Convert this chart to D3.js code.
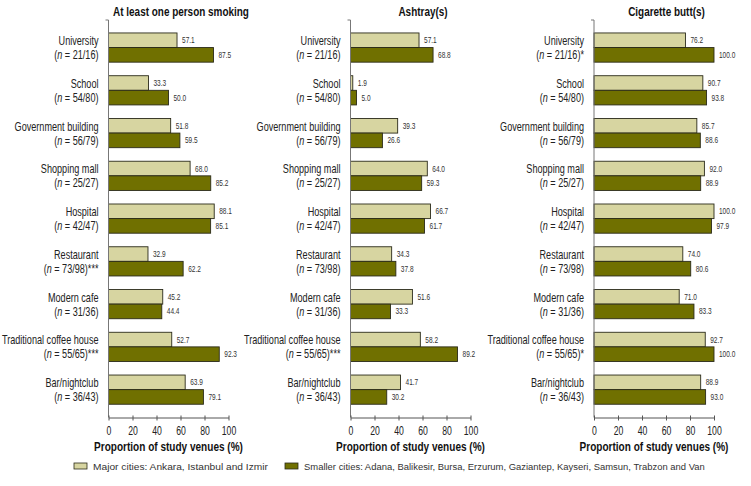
<!DOCTYPE html>
<html>
<head>
<meta charset="utf-8">
<script src="https://cdn.jsdelivr.net/npm/d3@7"></script>
<style>
  html, body { margin: 0; padding: 0; background: #fff; }
  svg { display: block; font-family: "Liberation Sans", Arial, sans-serif; }
</style>
</head>
<body>
<svg id="chart" width="751" height="486"></svg>
<script>
// ---- data ----
const categories = ["University", "School", "Government building", "Shopping mall", "Hospital",
  "Restaurant", "Modern cafe", "Traditional coffee house", "Bar/nightclub"];
const sampleSizes = ["21/16", "54/80", "56/79", "25/27", "42/47", "73/98", "31/36", "55/65", "36/43"];
const panelTitles = ["At least one person smoking", "Ashtray(s)", "Cigarette butt(s)"];
const significance = [
  ["", "", "", "", "", "***", "", "***", ""],
  ["", "", "", "", "", "", "", "***", ""],
  ["*", "", "", "", "", "", "", "*", ""]
];
const smokingMajor   = [57.1, 33.3, 51.8, 68.0, 88.1, 32.9, 45.2, 52.7, 63.9];
const smokingSmaller = [87.5, 50.0, 59.5, 85.2, 85.1, 62.2, 44.4, 92.3, 79.1];
const ashtrayMajor   = [57.1, 1.9, 39.3, 64.0, 66.7, 34.3, 51.6, 58.2, 41.7];
const ashtraySmaller = [68.8, 5.0, 26.6, 59.3, 61.7, 37.8, 33.3, 89.2, 30.2];
const buttMajor      = [76.2, 90.7, 85.7, 92.0, 100.0, 74.0, 71.0, 92.7, 88.9];
const buttSmaller    = [100.0, 93.8, 88.6, 88.9, 97.9, 80.6, 83.3, 100.0, 93.0];
const xTicks = [0, 20, 40, 60, 80, 100];
const seriesNames = ["Major cities: Ankara, Istanbul and Izmir",
  "Smaller cities: Adana, Balikesir, Bursa, Erzurum, Gaziantep, Kayseri, Samsun, Trabzon and Van"];
const axisTitle = "Proportion of study venues (%)";

const panels = [
  { major: smokingMajor, smaller: smokingSmaller },
  { major: ashtrayMajor, smaller: ashtraySmaller },
  { major: buttMajor, smaller: buttSmaller }
];

// ---- layout ----
const colors = ["#d7d5a1", "#707000"];
const panelX0 = [108.5, 350.5, 594];
const panelW = 120;
const axisTop = 20, axisY = 417.5;

const svg = d3.select("#chart");

// horizontal condensation (emulates a condensed typeface)
function measure(str, attrs) {
  const t = svg.append("text").text(str);
  Object.entries(attrs).forEach(([k, v]) => t.attr(k, v));
  const w = t.node().getComputedTextLength();
  t.remove();
  return w;
}
function place(sel, x, y, f) {
  sel.attr("x", 0).attr("y", 0).attr("transform", `translate(${x},${y}) scale(${f},1)`);
}

const fLabel = 84 / measure("Government building", { "font-size": 12.8 });
const fTitle = 136 / measure("At least one person smoking", { "font-size": 12.5, "font-weight": "bold" });
const fAxisT = 149 / measure(axisTitle, { "font-size": 12.5, "font-weight": "bold" });
const fVal = 12.7 / measure("57.1", { "font-size": 8.8 });
const fTick = 14.5 / measure("100", { "font-size": 13 });
const legTargets = [175, 401];
const fLeg = seriesNames.map((n, i) => legTargets[i] / measure(n, { "font-size": 9.5 }));

const y = d3.scaleBand().domain(categories).range([26.2, 411]).paddingInner(0.317).paddingOuter(0.158);
const ySub = d3.scaleBand().domain([0, 1]).range([0, y.bandwidth()]);

panels.forEach((p, pi) => {
  const x0 = panelX0[pi];
  const x = d3.scaleLinear().domain([0, 100]).range([x0, x0 + panelW]);
  const g = svg.append("g");

  // title
  g.append("text")
    .attr("text-anchor", "middle")
    .attr("font-weight", "bold").attr("font-size", 12.5)
    .attr("fill", "#111")
    .text(panelTitles[pi])
    .call(place, x0 + panelW / 2 + 12.5, 16, fTitle);

  // bars
  categories.forEach((c, i) => {
    const vals = [p.major[i], p.smaller[i]];
    vals.forEach((v, s) => {
      const by = y(c) + ySub(s);
      g.append("rect")
        .attr("x", x(0)).attr("y", by)
        .attr("width", x(v) - x(0)).attr("height", ySub.bandwidth())
        .attr("fill", colors[s]).attr("stroke", "#2b2b1a").attr("stroke-width", 0.9);
      g.append("text")
        .attr("font-size", 8.8).attr("fill", "#333")
        .text(v.toFixed(1))
        .call(place, x(v) + 5, by + ySub.bandwidth() / 2 + 3, fVal);
    });

    // category labels
    const cy = y(c) + y.bandwidth() / 2;
    g.append("text")
      .attr("text-anchor", "end")
      .attr("font-size", 12.8).attr("fill", "#222")
      .text(c)
      .call(place, x0 - 10, cy - 2.5, fLabel);
    const t2 = g.append("text")
      .attr("text-anchor", "end")
      .attr("font-size", 12.8).attr("fill", "#222");
    t2.append("tspan").text("(");
    t2.append("tspan").attr("font-style", "italic").text("n");
    t2.append("tspan").text(" = " + sampleSizes[i] + ")" + significance[pi][i]);
    t2.call(place, x0 - 10, cy + 11.5, fLabel);
  });

  // y axis line with top tick
  g.append("path")
    .attr("d", `M${x0 - 3},${axisTop}H${x0}V${axisY}`)
    .attr("fill", "none").attr("stroke", "#777").attr("stroke-width", 1);

  // x axis
  const ax = g.append("g").attr("transform", `translate(0,${axisY})`)
    .call(d3.axisBottom(x).tickValues(xTicks).tickSize(3).tickSizeOuter(0).tickPadding(5));
  ax.select(".domain").attr("stroke", "#555");
  ax.selectAll(".tick line").attr("stroke", "#555").attr("y1", -2).attr("y2", 3);
  ax.selectAll(".tick text")
    .attr("font-family", "inherit").attr("font-size", 13).attr("fill", "#222")
    .attr("transform", `scale(${fTick},1)`);

  g.append("text")
    .attr("text-anchor", "middle")
    .attr("font-weight", "bold").attr("font-size", 12.5).attr("fill", "#111")
    .text(axisTitle)
    .call(place, x0 + panelW / 2, 451, fAxisT);
});

// legend
const legendX = [74, 285];
seriesNames.forEach((name, s) => {
  svg.append("rect")
    .attr("x", legendX[s]).attr("y", 463).attr("width", 13).attr("height", 6)
    .attr("fill", colors[s]).attr("stroke", "#2b2b1a").attr("stroke-width", 0.8);
  svg.append("text")
    .attr("font-size", 9.5).attr("fill", "#333")
    .text(name)
    .call(place, legendX[s] + 19, 469.5, fLeg[s]);
});
</script>
</body>
</html>
